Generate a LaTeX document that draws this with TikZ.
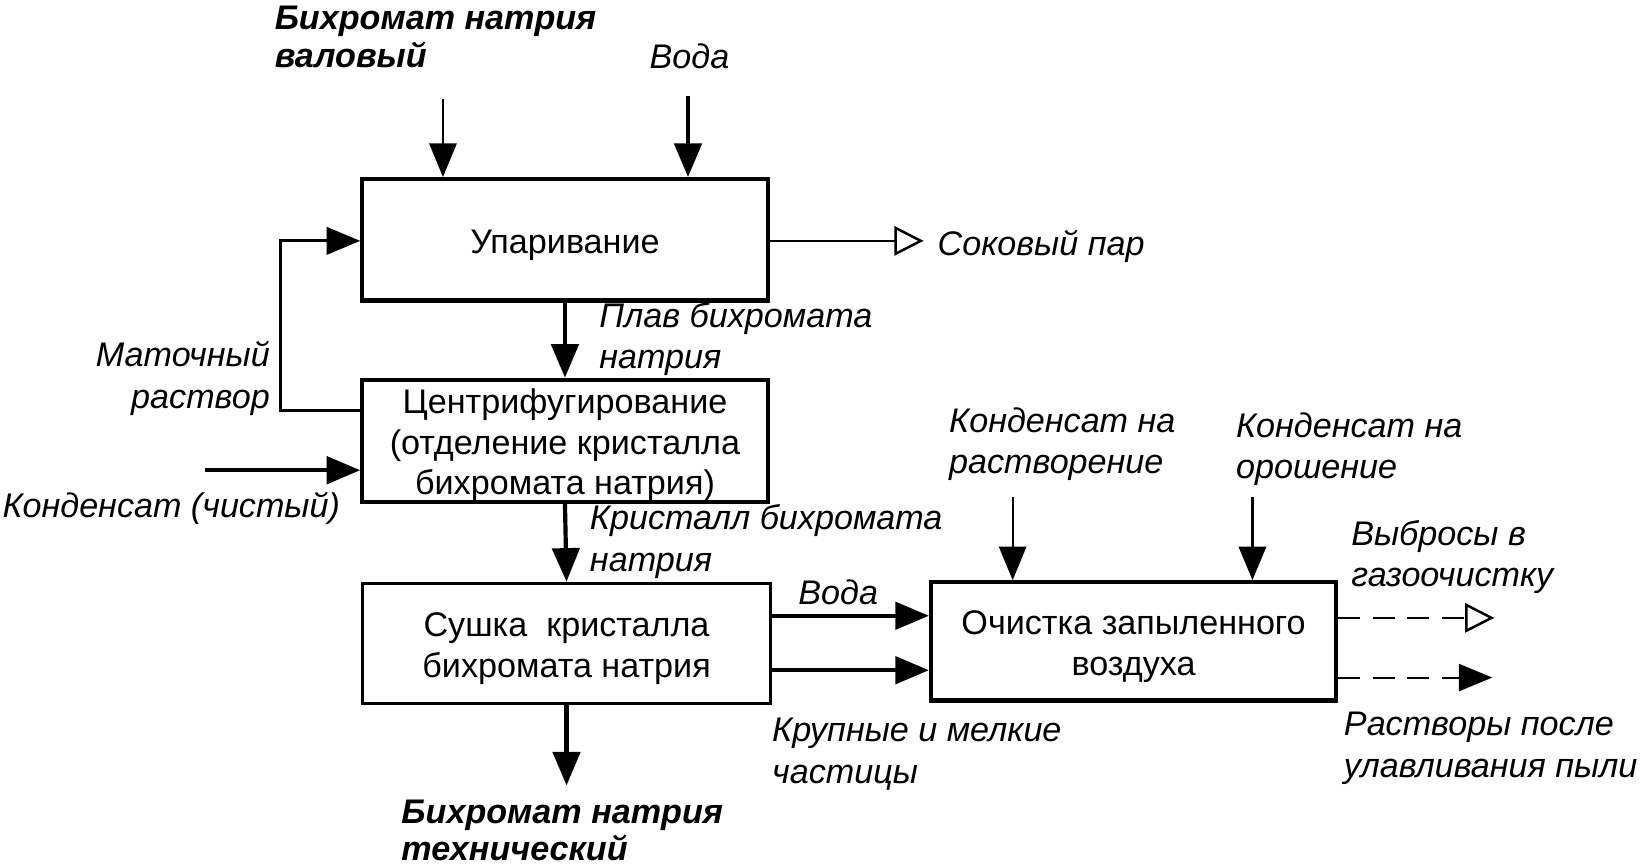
\documentclass[tikz,border=0pt]{standalone}
\usepackage{fontspec}
\setmainfont{Liberation Sans}
\usetikzlibrary{arrows.meta}
\newcommand{\topstrut}{\rule{0pt}{16pt}}
\begin{document}
\begin{tikzpicture}[x=0.5pt,y=-0.5pt,
  font=\fontsize{16.3}{19.5}\selectfont,
  box/.style={draw,line width=2pt,rectangle,align=center,inner sep=0pt},
  lbl/.style={anchor=base west,inner sep=0pt,font=\fontsize{16.3}{19.5}\selectfont\itshape},
  lblr/.style={anchor=base east,inner sep=0pt,font=\fontsize{16.3}{19.5}\selectfont\itshape},
  blbl/.style={anchor=base west,inner sep=0pt,font=\fontsize{16.3}{19.5}\selectfont\bfseries\itshape},
  tipf/.style={-{Triangle[length=16pt,width=13pt]}},
  tipo/.style={-{Triangle[open,fill=white,length=14pt,width=14pt,line width=1.2pt]}},
  thickln/.style={line width=2pt},
  thinln/.style={line width=1pt},
  midln/.style={line width=1.4pt},
  dashln/.style={dash pattern=on 10.5pt off 6pt}
]
\useasboundingbox (0,0) rectangle (1568,827);

% boxes
\node[box,minimum width=193.5pt,minimum height=58pt] (b1) at (539.5,229) {\topstrut Упаривание};
\node[box,minimum width=193.5pt,minimum height=56pt] (b2) at (539.5,421) {\topstrut Центрифугирование\\(отделение кристалла\\бихромата натрия)};
\node[box,minimum width=195pt,minimum height=57.5pt,line width=1.6pt] (b3) at (541,614.5) {\topstrut Сушка~~кристалла\\бихромата натрия};
\node[box,minimum width=193.5pt,minimum height=56.5pt] (b4) at (1082.5,612.5) {\topstrut Очистка запыленного\\воздуха};

% coordinates
\coordinate (in1) at (423,95);
\coordinate (in2) at (657,92);
\coordinate (fbA) at (268,392);
\coordinate (fbB) at (268,230);
\coordinate (kc) at (196,449);
\coordinate (sok) at (882,230);
\coordinate (out3) at (541,750);
\coordinate (w1) at (0,588);
\coordinate (w2) at (0,640);
\coordinate (c1) at (967,475);
\coordinate (c2) at (1196,475);
\coordinate (o1) at (1427,590);
\coordinate (o2) at (1425,647);

% connectors
\draw[thinln,tipf] (in1) -- (in1 |- b1.north);
\draw[thickln,tipf] (in2) -- (in2 |- b1.north);
\draw[midln,tipf] (fbA -| b2.west) -- (fbA) -- (fbB) -- (fbB -| b1.west);
\draw[thickln,tipf] (kc) -- (kc -| b2.west);
\draw[thinln,tipo] (sok -| b1.east) -- (sok);
\draw[thickln,tipf] (b1.south) -- (b2.north);
\draw[thickln,tipf] (b2.south) -- (b3.north);
\draw[thickln,tipf] (b3.south) -- (out3);
\draw[thickln,tipf] (w1 -| b3.east) -- (w1 -| b4.west);
\draw[thickln,tipf] (w2 -| b3.east) -- (w2 -| b4.west);
\draw[thinln,tipf] (c1) -- (c1 |- b4.north);
\draw[midln,tipf] (c2) -- (c2 |- b4.north);
\draw[thinln,dashln,tipo] (o1 -| b4.east) -- (o1);
\draw[thinln,dashln,tipf] (o2 -| b4.east) -- (o2);

% labels
\node[blbl] (t1a) at (262,28) {Бихромат натрия};
\node[blbl] (t1b) at (262,64) {валовый};
\node[lbl] (t2) at (620,65) {Вода};
\node[lbl] (t3) at (895,244) {Соковый пар};
\node[lbl] (t4a) at (572,313) {Плав бихромата};
\node[lbl] (t4b) at (572,352) {натрия};
\node[lblr] (t5a) at (258,350) {Маточный};
\node[lblr] (t5b) at (258,390) {раствор};
\node[lbl] (t6) at (2,494) {Конденсат (чистый)};
\node[lbl] (t7a) at (563,506) {Кристалл бихромата};
\node[lbl] (t7b) at (563,546) {натрия};
\node[lbl] (t8a) at (906,413) {Конденсат на};
\node[lbl] (t8b) at (906,452) {растворение};
\node[lbl] (t9a) at (1180,418) {Конденсат на};
\node[lbl] (t9b) at (1180,457) {орошение};
\node[lbl] (t10a) at (1290,521) {Выбросы в};
\node[lbl] (t10b) at (1290,560) {газоочистку};
\node[lbl] (t11) at (762,577) {Вода};
\node[lbl] (t12a) at (737,708) {Крупные и мелкие};
\node[lbl] (t12b) at (737,748) {частицы};
\node[lbl] (t13a) at (1283,702) {Растворы после};
\node[lbl] (t13b) at (1283,742) {улавливания пыли};
\node[blbl] (t14a) at (383,786) {Бихромат натрия};
\node[blbl] (t14b) at (383,822) {технический};
\end{tikzpicture}
\end{document}
